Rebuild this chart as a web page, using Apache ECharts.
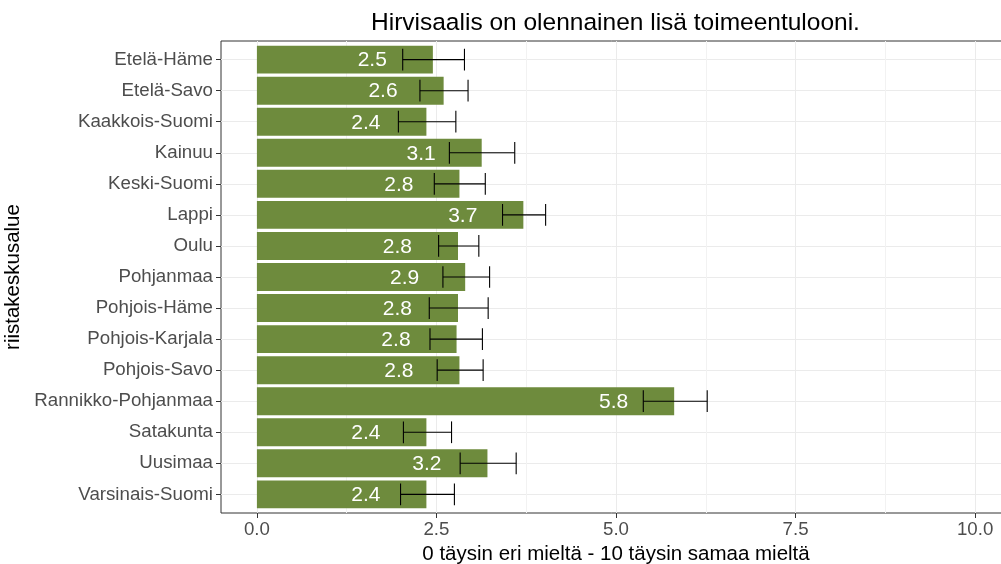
<!DOCTYPE html>
<html>
<head>
<meta charset="utf-8">
<script src="https://cdn.jsdelivr.net/npm/echarts@6/dist/echarts.min.js"></script>
<style>html,body{margin:0;padding:0;background:#fff}#c{width:1001px;height:564px}</style>
</head>
<body>
<div id="c"></div>
<script>
const categories = ["Etelä-Häme","Etelä-Savo","Kaakkois-Suomi","Kainuu","Keski-Suomi","Lappi","Oulu","Pohjanmaa","Pohjois-Häme","Pohjois-Karjala","Pohjois-Savo","Rannikko-Pohjanmaa","Satakunta","Uusimaa","Varsinais-Suomi"];
const means = [2.45, 2.60, 2.36, 3.13, 2.82, 3.71, 2.80, 2.90, 2.80, 2.78, 2.82, 5.81, 2.36, 3.21, 2.36];
const lower = [2.03, 2.27, 1.97, 2.68, 2.47, 3.42, 2.53, 2.59, 2.40, 2.41, 2.51, 5.38, 2.04, 2.83, 2.00];
const upper = [2.89, 2.94, 2.77, 3.59, 3.18, 4.02, 3.09, 3.24, 3.22, 3.14, 3.15, 6.27, 2.71, 3.61, 2.75];
const barLabels = ["2.5","2.6","2.4","3.1","2.8","3.7","2.8","2.9","2.8","2.8","2.8","5.8","2.4","3.2","2.4"];
const xTicks = [0, 2.5, 5, 7.5, 10];
const xMinor = [1.25, 3.75, 6.25, 8.75];
const title = "Hirvisaalis on olennainen lisä toimeentulooni.";
const xTitle = "0 täysin eri mieltä - 10 täysin samaa mieltä";
const yTitle = "riistakeskusalue";

const FONT = "Liberation Sans, Arial, sans-serif";
const positions = categories.map((c, i) => i + 1);

const chart = echarts.init(document.getElementById('c'), null, {renderer: 'canvas'});
chart.setOption({
  animation: false,
  backgroundColor: '#ffffff',
  title: {
    text: title, left: 366, top: 6,
    textStyle: {fontFamily: FONT, fontSize: 24.5, fontWeight: 'normal', color: '#000'}
  },
  grid: {left: 221, top: 41, right: -10, bottom: 51, show: true, borderColor: '#333333', borderWidth: 1,
         containLabel: false, outerBoundsMode: 'none'},
  xAxis: [{
    type: 'value', min: -0.5, max: 10.5,
    axisLine: {show: false, onZero: false},
    axisTick: {show: true, length: 5, customValues: xTicks, lineStyle: {color: '#333333'}},
    axisLabel: {customValues: xTicks, margin: 7, fontFamily: FONT, fontSize: 18.7, color: '#4d4d4d', formatter: v => v.toFixed(1)},
    splitLine: {show: true, lineStyle: {color: '#ebebeb', width: 1}},
    name: xTitle, nameLocation: 'middle', nameGap: 28,
    nameTextStyle: {fontFamily: FONT, fontSize: 20.5, color: '#000'}
  }, {
    type: 'value', min: -0.5, max: 10.5, position: 'bottom',
    axisLine: {show: false, onZero: false}, axisLabel: {show: false},
    axisTick: {show: false, customValues: xMinor},
    splitLine: {show: true, lineStyle: {color: '#f2f2f2', width: 1}}
  }],
  yAxis: {
    type: 'value', inverse: true, min: 0.4, max: 15.6, position: 'left',
    axisLine: {show: false, onZero: false},
    axisTick: {show: true, length: 5, customValues: positions, lineStyle: {color: '#333333'}},
    axisLabel: {customValues: positions, margin: 8, fontFamily: FONT, fontSize: 18.7, color: '#4d4d4d', formatter: v => categories[Math.round(v) - 1]},
    splitLine: {show: true, lineStyle: {color: '#ebebeb', width: 1}},
    name: yTitle, nameLocation: 'middle', nameGap: 194, nameRotate: 90,
    nameTextStyle: {fontFamily: FONT, fontSize: 20.5, color: '#000'}
  },
  series: [{
    type: 'custom',
    xAxisIndex: 0,
    encode: {x: 0, y: 1},
    data: means.map((m, i) => [m, positions[i], barLabels[i]]),
    renderItem: function (params, api) {
      const v = api.value(0), y = api.value(1);
      const p0 = api.coord([0, y - 0.45]);
      const p1 = api.coord([v, y + 0.45]);
      const c = api.coord([v, y]);
      return {type: 'group', children: [
        {type: 'rect', shape: {x: p0[0], y: Math.min(p0[1], p1[1]), width: p1[0] - p0[0], height: Math.abs(p1[1] - p0[1])},
         style: {fill: '#6E8B3D'}},
        {type: 'text', z2: 10, style: {text: barLabels[params.dataIndex], x: c[0] - 46, y: c[1] + 1, align: 'right', verticalAlign: 'middle',
         fill: '#ffffff', font: '21px ' + FONT}}
      ]};
    }
  }, {
    type: 'custom',
    xAxisIndex: 0,
    encode: {x: [1, 2], y: 0},
    data: positions.map((p, i) => [p, lower[i], upper[i]]),
    z: 5,
    renderItem: function (params, api) {
      const y = api.value(0), lo = api.value(1), hi = api.value(2);
      const a = api.coord([lo, y]), b = api.coord([hi, y]);
      const a0 = api.coord([lo, y - 0.35]), a1 = api.coord([lo, y + 0.35]);
      const b0 = api.coord([hi, y - 0.35]), b1 = api.coord([hi, y + 0.35]);
      const st = {stroke: '#000000', lineWidth: 1.1};
      return {type: 'group', children: [
        {type: 'line', shape: {x1: a[0], y1: a[1], x2: b[0], y2: b[1]}, style: st},
        {type: 'line', shape: {x1: a0[0], y1: a0[1], x2: a1[0], y2: a1[1]}, style: st},
        {type: 'line', shape: {x1: b0[0], y1: b0[1], x2: b1[0], y2: b1[1]}, style: st}
      ]};
    }
  }]
});
</script>
</body>
</html>
